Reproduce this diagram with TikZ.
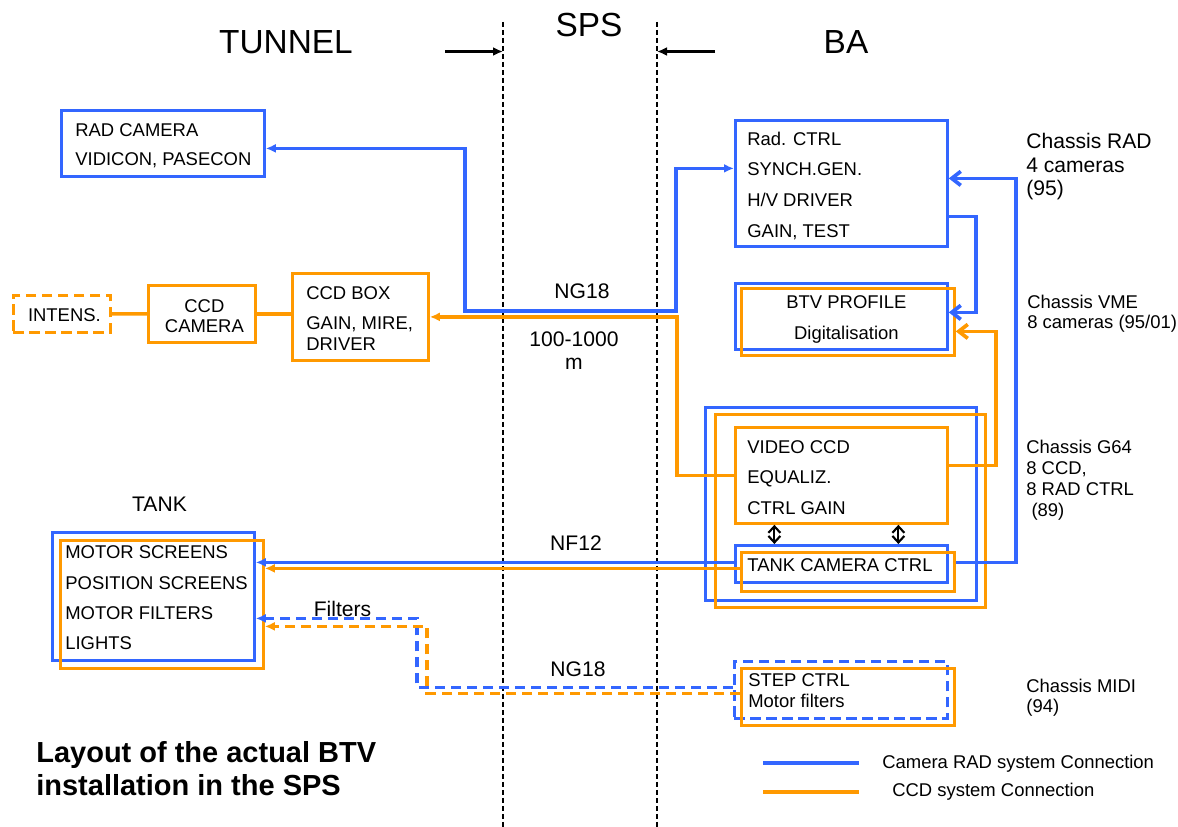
\documentclass[tikz,border=0pt]{standalone}
\usepackage{fontspec}
\setmainfont{Liberation Sans}
\usetikzlibrary{arrows.meta,calc}

\definecolor{radblue}{RGB}{51,102,255}
\definecolor{ccdorange}{RGB}{255,153,0}
\newcommand{\setfs}[2]{\fontsize{#1}{#2}\selectfont}

\tikzset{
  boxframe/.style={draw, line width=1.6pt, inner sep=0pt, anchor=north west},
  radframe/.style={boxframe, draw=radblue},
  ccdframe/.style={boxframe, draw=ccdorange},
  radlink/.style={color=radblue, line width=2.1pt},
  ccdlink/.style={color=ccdorange, line width=2.1pt},
  filterdash/.style={dash pattern=on 0.21cm off 0.11cm},
  zone/.style={line width=1.1pt, dash pattern=on 0.1cm off 0.06cm},
  lbl/.style={inner sep=0pt, align=left},
  barb/.style={-{Straight Barb[length=1.8mm,width=2.8mm]}},
  fhead/.style={-{Latex[length=2mm,width=1.8mm]}},
}

\begin{document}
\begin{tikzpicture}[x=0.02cm, y=-0.02cm]
  \useasboundingbox (0,0) rectangle (1178,827);

  % zone limits
  \coordinate (tunnelend) at (503,22);
  \coordinate (tunnelfoot) at (503,827);
  \coordinate (baend) at (657,22);
  \coordinate (bafoot) at (657,827);
  \draw[zone] (tunnelend) -- (tunnelfoot);
  \draw[zone] (baend) -- (bafoot);
  \coordinate (tunnelarr) at (445,51.5);
  \coordinate (baarr) at (715,51.5);
  \draw[line width=1.2pt, fhead] (tunnelarr) -- (tunnelarr -| tunnelend);
  \draw[line width=1.2pt, fhead] (baarr) -- (baarr -| baend);

  \node[lbl, font=\setfs{19}{23}] (tunnel) at (286,42.5) {TUNNEL};
  \node[lbl, font=\setfs{19}{23}] (sps) at (589,25) {SPS};
  \node[lbl, font=\setfs{19}{23}] (ba) at (846,42.5) {BA};

  % tunnel side
  \node[radframe, minimum width=4.06cm, minimum height=1.32cm] (radcam) at (60,109) {};
  \node[lbl, anchor=north west, font=\setfs{10.5}{16.5}] (radcamtxt) at ($(radcam.north west)+(15,14)$) {RAD CAMERA\\VIDICON, PASECON};

  \node[ccdframe, filterdash, minimum width=1.94cm, minimum height=0.74cm] (intens) at (12,294) {};
  \node[lbl, anchor=north, font=\setfs{10.5}{12}] (intenstxt) at ($(intens.north)+(2.5,14.4)$) {INTENS.};
  \node[ccdframe, minimum width=2.14cm, minimum height=1.14cm] (ccdcam) at (147,284) {};
  \node[lbl, anchor=north, align=center, font=\setfs{10.5}{11.4}] (ccdcamtxt) at ($(ccdcam.north)+(2.5,15)$) {CCD\\CAMERA};
  \node[ccdframe, minimum width=2.72cm, minimum height=1.74cm] (ccdbox) at (291,272) {};
  \node[lbl, anchor=north west, font=\setfs{10.5}{11.4}] (ccdboxtxt) at ($(ccdbox.north west)+(15,14.7)$) {CCD BOX\\[5.7pt]GAIN, MIRE,\\DRIVER};

  \node[lbl, font=\setfs{12}{13}] (tank) at (159.5,504.5) {TANK};
  \node[radframe, minimum width=4.04cm, minimum height=2.56cm] (tankb) at (51,531) {};
  \node[ccdframe, minimum width=4.06cm, minimum height=2.56cm] (tanko) at (59,539) {};
  \node[lbl, anchor=north west, font=\setfs{10.5}{17.2}] (tanktxt) at ($(tankb.north west)+(14,14.7)$) {MOTOR SCREENS\\POSITION SCREENS\\MOTOR FILTERS\\LIGHTS};

  % BA side
  \node[radframe, minimum width=4.24cm, minimum height=2.52cm] (radctrl) at (734,119) {};
  \node[lbl, anchor=north west, font=\setfs{10.5}{17.4}] (radctrltxt) at ($(radctrl.north west)+(13,12.7)$) {Rad. CTRL\\SYNCH.GEN.\\H/V DRIVER\\GAIN, TEST};

  \node[radframe, minimum width=4.24cm, minimum height=1.32cm] (btvb) at (734,282) {};
  \node[ccdframe, minimum width=4.26cm, minimum height=1.34cm] (btvo) at (740,287) {};
  \node[lbl, anchor=north, align=center, font=\setfs{10.5}{18}] (btvtxt) at ($(btvb.north)+(5,12.8)$) {BTV PROFILE\\Digitalisation};

  \node[radframe, minimum width=5.42cm, minimum height=3.86cm] (g64b) at (704,406) {};
  \node[ccdframe, minimum width=5.40cm, minimum height=3.86cm] (g64o) at (714,413) {};
  \node[ccdframe, minimum width=4.24cm, minimum height=1.92cm] (videoccd) at (734,426) {};
  \node[lbl, anchor=north west, font=\setfs{10.5}{17.5}] (videoccdtxt) at ($(videoccd.north west)+(13,14)$) {VIDEO CCD\\EQUALIZ.\\CTRL GAIN};
  \node[radframe, minimum width=4.24cm, minimum height=0.74cm] (tankctrlb) at (734,544) {};
  \node[ccdframe, minimum width=4.26cm, minimum height=0.78cm] (tankctrlo) at (740,551) {};
  \node[lbl, anchor=north west, font=\setfs{10.5}{12}] (tankctrltxt) at ($(tankctrlb.north west)+(13,14.4)$) {TANK CAMERA CTRL};

  \node[radframe, filterdash, minimum width=4.26cm, minimum height=1.14cm] (stepb) at (733,660) {};
  \node[ccdframe, minimum width=4.26cm, minimum height=1.14cm] (stepo) at (740,667) {};
  \node[lbl, anchor=north west, font=\setfs{10.5}{12}] (steptxt) at ($(stepb.north west)+(15,13.4)$) {STEP CTRL\\Motor filters};

  % chassis notes
  \node[lbl, anchor=north west, font=\setfs{12}{13.4}] (chrad) at (1026,133) {Chassis RAD\\4 cameras\\(95)};
  \node[lbl, anchor=north west, font=\setfs{10.5}{11.4}] (chvme) at (1027,294.5) {Chassis VME\\8 cameras (95/01)};
  \node[lbl, anchor=north west, font=\setfs{10.5}{12}] (chg64) at (1026,439.5) {Chassis G64\\8 CCD,\\8 RAD CTRL\\\hspace*{0.28em}(89)};
  \node[lbl, anchor=north west, font=\setfs{10.5}{11.4}] (chmidi) at (1026,678.5) {Chassis MIDI\\(94)};

  % cables
  \draw[radlink, {Latex[length=2mm,width=1.8mm]}-{Latex[length=2mm,width=1.8mm]}]
    ($(radcam.east)+(0,5)$) -| (465,311) -| ($(radctrl.west)+(-58,-15)$) -- ($(radctrl.west)+(0,-15)$);
  \draw[ccdlink, fhead] (videoccd.west) -- ++(-57,0) |- (ccdbox.east);
  \draw[ccdlink] (intens.east) -- (ccdcam.west);
  \draw[ccdlink] (ccdcam.east) -- (ccdcam.east -| ccdbox.west);
  \draw[radlink, barb] ($(radctrl.east)+(0,33)$) -- ++(27,0) |- ($(btvb.east)+(0,-4)$);
  \draw[ccdlink, barb] ($(videoccd.east)+(0,-10)$) -- ++(47,0) |- ($(btvo.east)+(0,9.5)$);
  \draw[radlink, barb] ($(tankctrlo.east)+(0,-9.5)$) -- ++(60,0) |- ($(radctrl.east)+(0,-5)$);
  \draw[radlink, fhead] ($(tankctrlb.west)+(0,-1.5)$) coordinate (nfrad) -- (nfrad -| tankb.east);
  \draw[ccdlink, fhead] ($(tankctrlo.west)+(0,-3.5)$) coordinate (nfccd) -- (nfccd -| tanko.east);
  \draw[radlink, filterdash, fhead] ($(stepb.west)+(0,-2.5)$) -| (417,640) |- ($(tankb.east)+(0,22)$);
  \draw[ccdlink, filterdash, fhead] ($(stepo.west)+(0,-3.5)$) -| (427,650) |- ($(tanko.east)+(0,22)$);
  \draw[line width=1.2pt, {Straight Barb[length=1.3mm,width=2.4mm]}-{Straight Barb[length=1.3mm,width=2.4mm]}]
    ($(videoccd.south)+(-67,0)$) -- ($(tankctrlb.north)+(-67,0)$);
  \draw[line width=1.2pt, {Straight Barb[length=1.3mm,width=2.4mm]}-{Straight Barb[length=1.3mm,width=2.4mm]}]
    ($(videoccd.south)+(57,0)$) -- ($(tankctrlb.north)+(57,0)$);

  \node[lbl, font=\setfs{12}{13}] (ngtop) at (582,291.5) {NG18};
  \node[lbl, align=center, font=\setfs{12}{13}] (cablelength) at (574,351) {100-1000\\m};
  \node[lbl, font=\setfs{12}{13}] (nf) at (576,543) {NF12};
  \node[lbl, font=\setfs{12}{13}] (filters) at (342.5,608.5) {Filters};
  \node[lbl, font=\setfs{12}{13}] (ngbot) at (578,669) {NG18};

  % title and legend
  \node[lbl, anchor=north west, font=\setfs{16.5}{18.8}\bfseries] (title) at (36,741) {Layout of the actual BTV\\installation in the SPS};
  \coordinate (radkeya) at (763,763);
  \coordinate (radkeyb) at (859,763);
  \coordinate (ccdkeya) at (763,792);
  \coordinate (ccdkeyb) at (859,792);
  \draw[radlink] (radkeya) -- (radkeyb);
  \draw[ccdlink] (ccdkeya) -- (ccdkeyb);
  \node[lbl, anchor=base west, font=\setfs{10.5}{12}] (radkey) at (882,769) {Camera RAD system Connection};
  \node[lbl, anchor=base west, font=\setfs{10.5}{12}] (ccdkey) at (892,797) {CCD system Connection};
\end{tikzpicture}
\end{document}
